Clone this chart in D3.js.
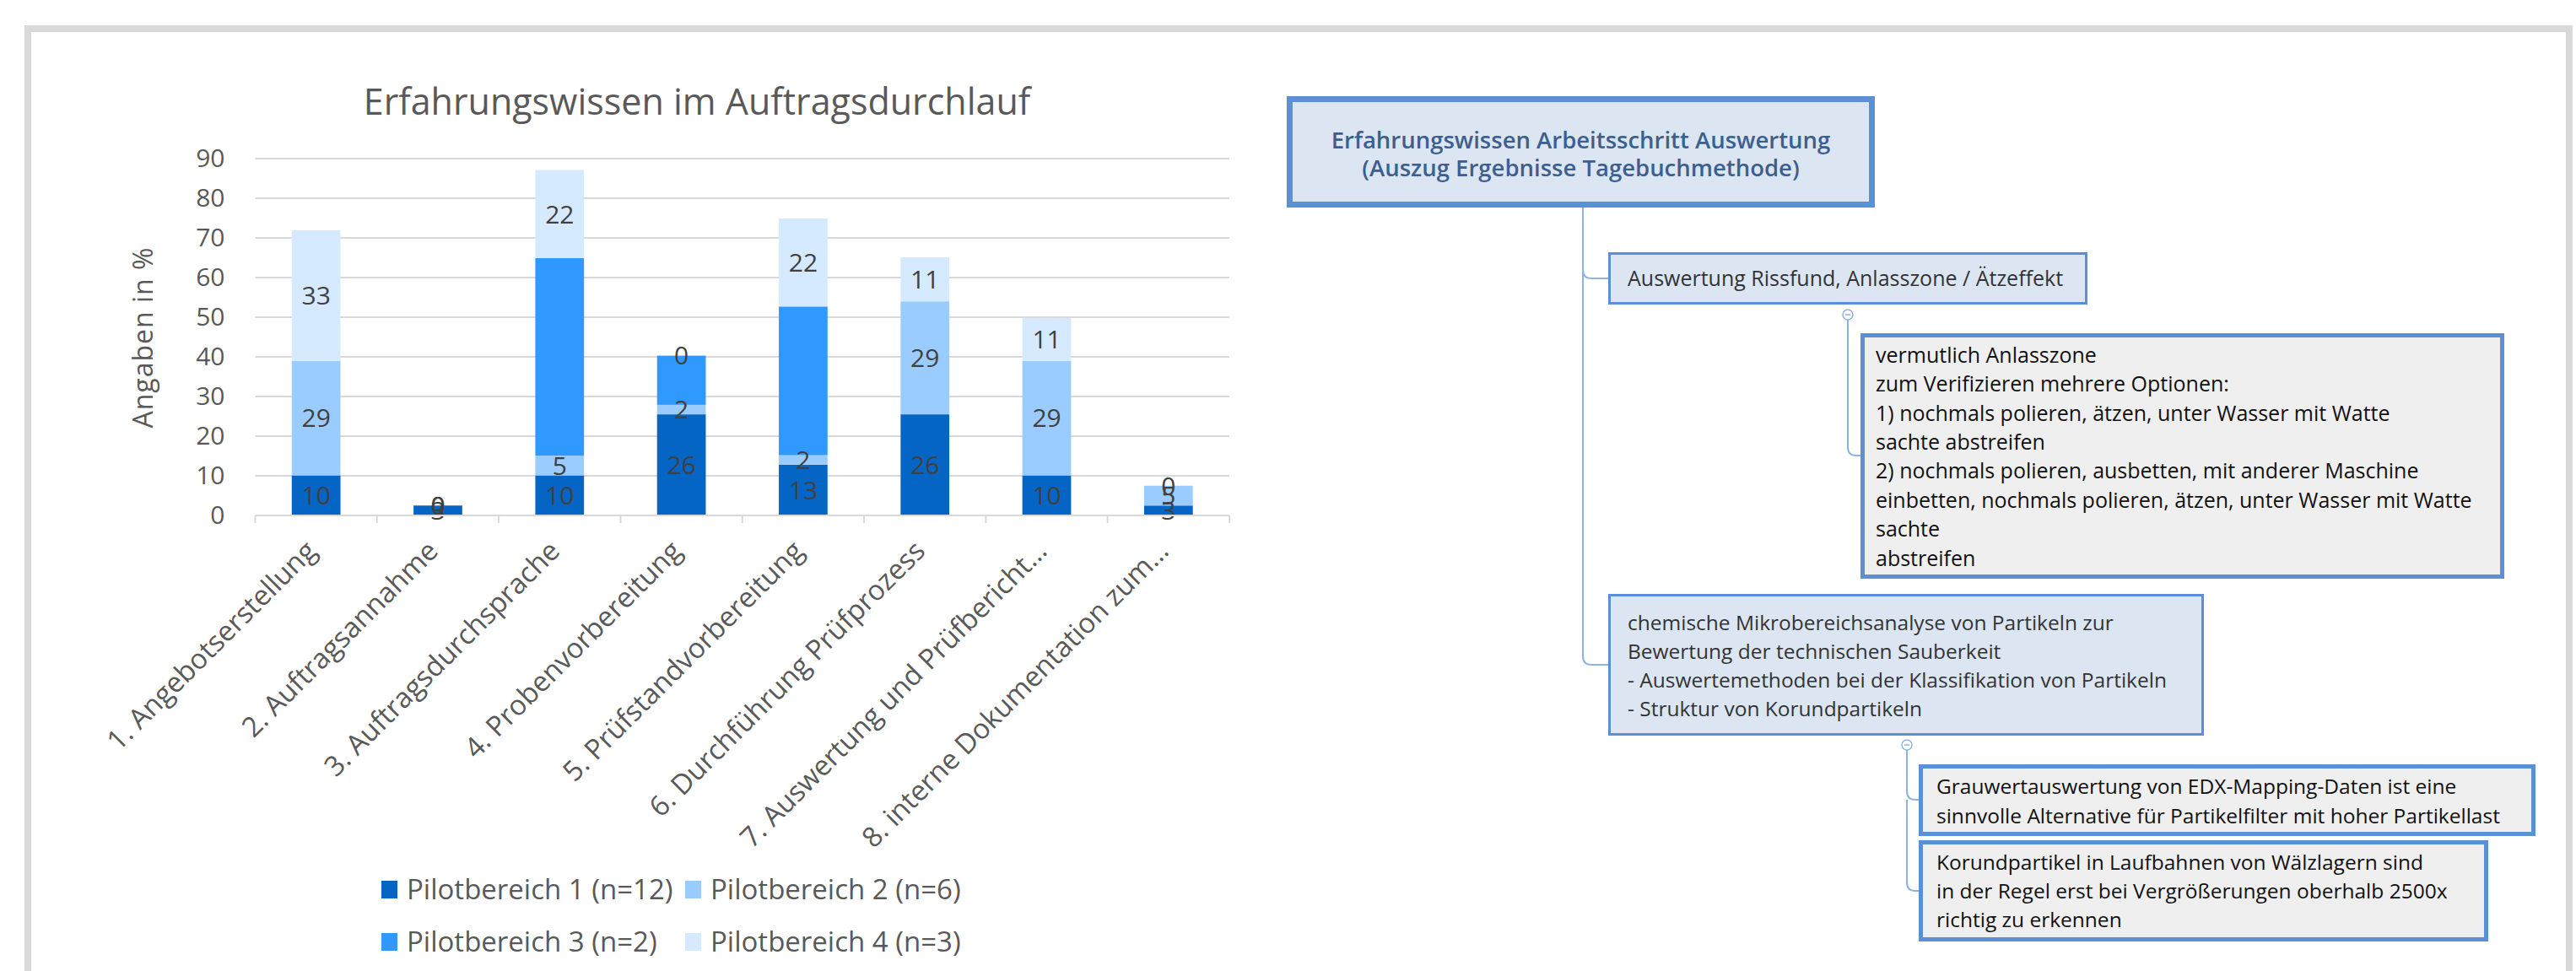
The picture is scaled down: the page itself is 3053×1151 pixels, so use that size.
<!DOCTYPE html>
<html><head><meta charset="utf-8">
<script src="https://cdn.jsdelivr.net/npm/d3@7"></script>
<style>body{margin:0;background:#fff;overflow:hidden} svg{display:block}</style>
</head><body>
<svg id="c" width="3053" height="1151"></svg>
<script>
// ---------- DATA ----------
const categories = ["1. Angebotserstellung","2. Auftragsannahme","3. Auftragsdurchsprache","4. Probenvorbereitung","5. Prüfstandvorbereitung","6. Durchführung Prüfprozess","7. Auswertung und Prüfbericht…","8. interne Dokumentation zum…"];
const seriesNames = ["Pilotbereich 1 (n=12)","Pilotbereich 2 (n=6)","Pilotbereich 3 (n=2)","Pilotbereich 4 (n=3)"];
const pilot1 = [10.1, 2.5, 10.1, 25.5, 12.8, 25.5, 10.1, 2.5];
const pilot2 = [28.9, 0, 5.0, 2.4, 2.4, 28.5, 28.9, 5.0];
const pilot3 = [0, 0, 49.8, 12.4, 37.5, 0, 0, 0];
const pilot4 = [32.9, 0, 22.2, 0, 22.2, 11.1, 10.8, 0];
const labelledSeries = [true, true, false, true];
const yTicks = [0,10,20,30,40,50,60,70,80,90];
const chartTitle = "Erfahrungswissen im Auftragsdurchlauf";
const yTitle = "Angaben in %";

const mapRoot = ["Erfahrungswissen Arbeitsschritt Auswertung","(Auszug Ergebnisse Tagebuchmethode)"];
const mapNode1 = ["Auswertung Rissfund, Anlasszone / Ätzeffekt"];
const mapNode1a = ["vermutlich Anlasszone","zum Verifizieren mehrere Optionen:","1) nochmals polieren, ätzen, unter Wasser mit Watte","sachte abstreifen","2) nochmals polieren, ausbetten, mit anderer Maschine","einbetten, nochmals polieren, ätzen, unter Wasser mit Watte","sachte","abstreifen"];
const mapNode2 = ["chemische Mikrobereichsanalyse von Partikeln zur","Bewertung der technischen Sauberkeit","- Auswertemethoden bei der Klassifikation von Partikeln","- Struktur von Korundpartikeln"];
const mapNode2a = ["Grauwertauswertung von EDX-Mapping-Daten ist eine","sinnvolle Alternative für Partikelfilter mit hoher Partikellast"];
const mapNode2b = ["Korundpartikel in Laufbahnen von Wälzlagern sind","in der Regel erst bei Vergrößerungen oberhalb 2500x","richtig zu erkennen"];

// ---------- STYLE ----------
const colors = ["#0565C4","#9BCCFF","#2F99FF","#D6EAFF"];
const FONT = "'Open Sans', 'Noto Sans', sans-serif";
const svg = d3.select("#c");

// outer frame
svg.append("rect").attr("x",33).attr("y",34).attr("width",3012).attr("height",1200)
  .attr("fill","#fff").attr("stroke","#D9D9D9").attr("stroke-width",8);

// ---------- CHART ----------
const x = d3.scaleBand().domain(categories).range([302.5,1457]).paddingInner(0.6).paddingOuter(0.3);
const y = d3.scaleLinear().domain([0,90]).range([611,188]);

const g = svg.append("g");
// gridlines
g.selectAll("line.grid").data(yTicks.filter(d=>d>0)).join("line")
  .attr("x1",302.5).attr("x2",1457).attr("y1",d=>y(d)).attr("y2",d=>y(d))
  .attr("stroke","#D9D9D9").attr("stroke-width",2);

// stacked bars
const rows = categories.map((c,i)=>({cat:c, s0:pilot1[i], s1:pilot2[i], s2:pilot3[i], s3:pilot4[i]}));
const stack = d3.stack().keys(["s0","s1","s2","s3"])(rows);
stack.forEach((layer,k)=>{
  g.append("g").selectAll("rect").data(layer).join("rect")
    .attr("x",d=>x(d.data.cat)).attr("width",x.bandwidth())
    .attr("y",d=>y(d[1])).attr("height",d=>Math.max(0,y(d[0])-y(d[1])))
    .attr("fill",colors[k]);
});
// data labels
stack.forEach((layer,k)=>{
  if(!labelledSeries[k]) return;
  g.append("g").selectAll("text").data(layer).join("text")
    .attr("x",d=>x(d.data.cat)+x.bandwidth()/2).attr("y",d=>y((d[0]+d[1])/2))
    .attr("text-anchor","middle").attr("dy","0.36em")
    .attr("font-family",FONT).attr("font-size",30).attr("fill","#404040")
    .text(d=>Math.round(d[1]-d[0]));
});

// y axis
const ya = g.append("g").attr("transform","translate(302.5,0)")
  .call(d3.axisLeft(y).tickValues(yTicks).tickSize(0).tickPadding(36));
ya.select(".domain").remove();
ya.selectAll("text").attr("font-family",FONT).attr("font-size",30).attr("fill","#595959");

// x axis
g.append("line").attr("x1",302.5).attr("x2",1457).attr("y1",611).attr("y2",611)
  .attr("stroke","#D9D9D9").attr("stroke-width",2);
const bounds = d3.range(categories.length+1).map(i=>302.5+i*x.step());
g.selectAll("line.tk").data(bounds).join("line")
  .attr("x1",d=>d).attr("x2",d=>d).attr("y1",611).attr("y2",620)
  .attr("stroke","#D9D9D9").attr("stroke-width",2);
const xa = g.append("g").attr("transform","translate(0,611)")
  .call(d3.axisBottom(x).tickSize(0).tickPadding(0));
xa.select(".domain").remove();
xa.selectAll("text")
  .attr("font-family",FONT).attr("font-size",33).attr("fill","#595959")
  .attr("text-anchor","end").attr("y",0).attr("dy","0.35em")
  .attr("transform","translate(-6,36) rotate(-45)");

// titles
svg.append("text").attr("x",826).attr("y",121).attr("dy","0.35em").attr("text-anchor","middle")
  .attr("font-family",FONT).attr("font-size",43).attr("fill","#595959").text(chartTitle);
svg.append("text").attr("transform","translate(170,400) rotate(-90)").attr("dy","0.35em")
  .attr("text-anchor","middle").attr("font-family",FONT).attr("font-size",32).attr("letter-spacing",1)
  .attr("fill","#595959").text(yTitle);

// legend
const legendPos = [[452,1054],[812,1054],[452,1116],[812,1116]];
seriesNames.forEach((n,i)=>{
  const [lx,ly] = legendPos[i];
  svg.append("rect").attr("x",lx).attr("y",ly-10).attr("width",19).attr("height",21).attr("fill",colors[i]);
  svg.append("text").attr("x",lx+30).attr("y",ly).attr("dy","0.35em")
    .attr("font-family",FONT).attr("font-size",33).attr("fill","#595959").text(n);
});

// ---------- MIND MAP ----------
const LINE = "#8DB3E2", BORDER = "#5B8FD6";
const mm = svg.append("g");
function conn(path){ mm.append("path").attr("d",path).attr("fill","none").attr("stroke",LINE).attr("stroke-width",2); }
// root trunk
conn("M1876,246 V778 Q1876,788 1886,788 H1906");
conn("M1876,320 Q1876,330 1886,330 H1906");
// node1 children
conn("M2190,379 V530 Q2190,540 2200,540 H2205");
// node2 children
conn("M2260,889 V938 Q2260,948 2270,948 H2274");
conn("M2260,948 V1046 Q2260,1056 2270,1056 H2274");

function box(x0,y0,x1,y1,fill,sw){
  mm.append("rect").attr("x",x0+sw/2).attr("y",y0+sw/2).attr("width",x1-x0-sw).attr("height",y1-y0-sw)
    .attr("fill",fill).attr("stroke",BORDER).attr("stroke-width",sw);
}
function lines(arr,tx,ty,lh,size,color,anchor,weight){
  const t = mm.append("text").attr("font-family",FONT).attr("font-size",size).attr("fill",color)
    .attr("text-anchor",anchor||"start").attr("font-weight",weight||400);
  arr.forEach((s,i)=>t.append("tspan").attr("x",tx).attr("y",ty+i*lh).attr("dy","0.35em").text(s));
}
function circ(cx,cy){
  mm.append("circle").attr("cx",cx).attr("cy",cy).attr("r",6).attr("fill","#fff").attr("stroke",LINE).attr("stroke-width",1.5);
  mm.append("line").attr("x1",cx-3).attr("x2",cx+3).attr("y1",cy).attr("y2",cy).attr("stroke",LINE).attr("stroke-width",1.5);
}
box(1525,114,2222,246,"#DCE6F2",7);
lines(mapRoot,1873.5,166,33,27.5,"#3C5F90","middle",600);
box(1906,299,2474,361,"#DCE6F2",3);
lines(mapNode1,1929,330,34,25,"#333","start");
circ(2190,373);
box(2205,395,2968,686,"#EFEFEF",5);
lines(mapNode1a,2223,421,34.4,25,"#111","start");
box(1906,704,2612,872,"#DCE6F2",3);
lines(mapNode2,1929,738,34.3,24.5,"#333","start");
circ(2260,883);
box(2274,906,3005,991,"#EFEFEF",5);
lines(mapNode2a,2295,932,35,24.5,"#111","start");
box(2274,996,2949,1116,"#EFEFEF",5);
lines(mapNode2b,2295,1022,34.3,24.5,"#111","start");
</script>
</body></html>
